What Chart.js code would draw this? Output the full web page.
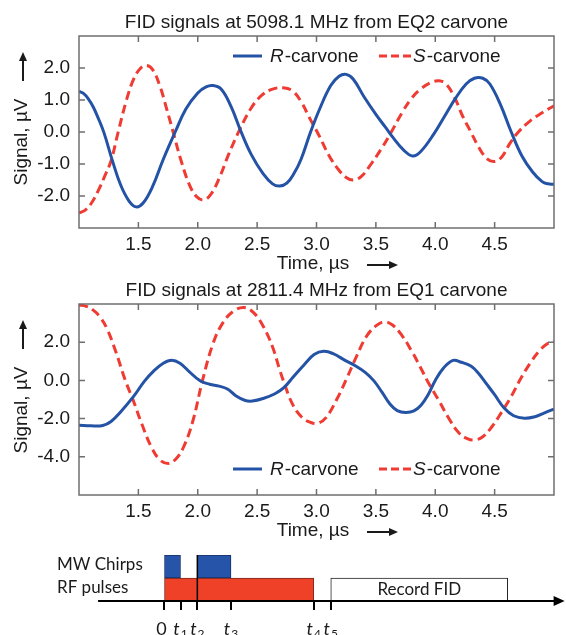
<!DOCTYPE html>
<html><head><meta charset="utf-8">
<script src="https://cdn.jsdelivr.net/npm/chart.js@4.4.1/dist/chart.umd.min.js"></script>
<style>
html,body{margin:0;padding:0;background:#fff;}
body{width:566px;height:635px;position:relative;overflow:hidden;}
canvas{position:absolute;left:0;}
</style></head><body>
<canvas id="c1" width="566" height="280" style="top:0px"></canvas>
<canvas id="c2" width="566" height="265" style="top:280px"></canvas>
<canvas id="c3" width="566" height="90" style="top:545px"></canvas>
<script>
// ---------------- data ----------------
const topTitle = 'FID signals at 5098.1 MHz from EQ2 carvone';
const bottomTitle = 'FID signals at 2811.4 MHz from EQ1 carvone';
const seriesNames = ['R-carvone', 'S-carvone'];
const xAxisTitle = 'Time, µs';
const yAxisTitle = 'Signal, µV';
const xTickValues = [1.5, 2.0, 2.5, 3.0, 3.5, 4.0, 4.5];
const topYTicks = [-2, -1, 0, 1, 2];
const bottomYTicks = [-4, -2, 0, 2];

const topRTime = [1.00,1.04,1.08,1.12,1.16,1.21,1.28,1.35,1.42,1.48,1.54,1.62,1.71,1.81,1.90,2.00,2.07,2.13,2.20,2.28,2.36,2.45,2.55,2.63,2.69,2.75,2.81,2.87,2.95,3.03,3.12,3.19,3.25,3.31,3.40,3.50,3.58,3.65,3.73,3.81,3.88,3.99,4.08,4.17,4.26,4.33,4.40,4.46,4.55,4.64,4.73,4.82,4.90,4.95,5.00];
const topRSignal = [1.27,1.20,1.03,0.78,0.45,-0.02,-0.88,-1.65,-2.15,-2.34,-2.22,-1.70,-0.85,0.00,0.72,1.22,1.41,1.45,1.33,0.80,0.05,-0.70,-1.30,-1.62,-1.69,-1.60,-1.30,-0.85,0.00,0.75,1.45,1.74,1.80,1.65,1.10,0.55,0.15,-0.20,-0.55,-0.75,-0.60,-0.05,0.50,1.05,1.50,1.68,1.68,1.50,0.85,0.00,-0.75,-1.25,-1.55,-1.62,-1.63];

const topSTime = [1.00,1.05,1.10,1.16,1.22,1.27,1.33,1.40,1.46,1.52,1.57,1.62,1.68,1.74,1.80,1.86,1.93,1.99,2.05,2.11,2.18,2.26,2.35,2.45,2.54,2.63,2.72,2.80,2.87,2.94,3.02,3.10,3.18,3.25,3.31,3.38,3.46,3.55,3.63,3.72,3.80,3.88,3.96,4.03,4.09,4.16,4.23,4.30,4.37,4.44,4.50,4.56,4.63,4.70,4.80,4.90,5.00];
const topSSignal = [-2.53,-2.45,-2.25,-1.85,-1.35,-0.90,0.00,1.00,1.65,2.00,2.08,1.95,1.45,0.70,-0.10,-0.90,-1.65,-2.02,-2.12,-1.95,-1.45,-0.70,0.05,0.75,1.15,1.34,1.38,1.28,0.95,0.45,-0.10,-0.70,-1.15,-1.42,-1.50,-1.38,-1.00,-0.50,0.00,0.60,1.05,1.35,1.54,1.60,1.50,1.10,0.50,0.00,-0.50,-0.85,-0.92,-0.78,-0.35,0.00,0.35,0.60,0.82];

const bottomRTime = [1.00,1.10,1.20,1.27,1.35,1.46,1.55,1.63,1.71,1.78,1.85,1.93,2.02,2.10,2.18,2.25,2.32,2.40,2.46,2.55,2.65,2.73,2.80,2.90,2.98,3.06,3.14,3.24,3.33,3.41,3.48,3.55,3.62,3.68,3.75,3.82,3.88,3.94,4.00,4.07,4.15,4.22,4.30,4.36,4.44,4.50,4.58,4.66,4.75,4.84,4.92,5.00];
const bottomRSignal = [-2.35,-2.38,-2.36,-2.15,-1.65,-0.84,-0.05,0.50,0.90,1.05,0.90,0.45,-0.02,-0.20,-0.30,-0.45,-0.80,-1.05,-1.08,-0.95,-0.70,-0.35,0.15,0.85,1.35,1.52,1.40,1.05,0.75,0.42,0.00,-0.60,-1.25,-1.58,-1.68,-1.60,-1.30,-0.75,0.00,0.65,1.05,0.95,0.75,0.40,-0.25,-0.75,-1.45,-1.85,-1.98,-1.90,-1.70,-1.50];

const bottomSTime = [1.00,1.06,1.12,1.18,1.24,1.31,1.39,1.46,1.53,1.61,1.68,1.75,1.81,1.88,1.96,2.04,2.13,2.21,2.30,2.39,2.47,2.55,2.63,2.69,2.72,2.80,2.88,2.95,3.01,3.08,3.17,3.25,3.34,3.42,3.50,3.57,3.64,3.72,3.80,3.87,3.94,4.03,4.12,4.20,4.27,4.33,4.40,4.48,4.56,4.64,4.72,4.80,4.87,4.94,5.00];
const bottomSSignal = [3.95,3.88,3.68,3.30,2.65,1.50,0.00,-1.10,-2.30,-3.50,-4.15,-4.35,-4.15,-3.50,-2.10,0.00,1.95,3.00,3.62,3.82,3.55,2.85,1.75,0.56,0.00,-1.27,-1.95,-2.20,-2.25,-1.95,-1.00,0.04,1.30,2.30,2.85,3.07,2.90,2.35,1.55,0.75,-0.10,-1.05,-2.05,-2.75,-3.05,-3.12,-2.95,-2.40,-1.65,-0.84,0.10,0.91,1.50,1.90,2.04];

// pulse-sequence diagram (arbitrary time units)
const diagramRows = ['MW Chirps', 'RF pulses'];
const mwChirpSpans = [[0, 1.0], [1.99, 3.97]];
const rfPulseSpans = [[0, 8.84]];
const recordSpan = [9.84, 20.25];
const recordLabel = 'Record FID';
const timeMarkValues = [0, 1.0, 1.99, 3.97, 8.84, 9.84];
const timeMarkLabels = ['0', 't1', 't2', 't3', 't4', 't5'];
const timeAxisRange = [-3.85, 23.6];

// ---------------- styling ----------------
const FONT = '"Liberation Sans", Arial, sans-serif';
const DFONT = 'Lato, "Open Sans", sans-serif';
const BLUE = '#2453a6';
const RED = '#ef3b32';
const TXT = '#1a1a1a';

function toXY(xs, ys) { return xs.map((x, i) => ({ x: x, y: ys[i] })); }

function arrow(ctx, x0, y0, x1, y1, head, half) {
  const ang = Math.atan2(y1 - y0, x1 - x0);
  ctx.beginPath();
  ctx.moveTo(x0, y0);
  ctx.lineTo(x1 - Math.cos(ang) * head * 0.8, y1 - Math.sin(ang) * head * 0.8);
  ctx.stroke();
  ctx.beginPath();
  ctx.moveTo(x1, y1);
  ctx.lineTo(x1 - Math.cos(ang) * head + Math.sin(ang) * half, y1 - Math.sin(ang) * head - Math.cos(ang) * half);
  ctx.lineTo(x1 - Math.cos(ang) * head - Math.sin(ang) * half, y1 - Math.sin(ang) * head + Math.cos(ang) * half);
  ctx.closePath();
  ctx.fill();
}

function drawLegendItem(ctx, x0, x1, y, color, dash, name, textX) {
  ctx.save();
  ctx.strokeStyle = color; ctx.lineWidth = 3; ctx.setLineDash(dash);
  ctx.beginPath(); ctx.moveTo(x0, y); ctx.lineTo(x1, y); ctx.stroke();
  ctx.restore();
  const first = name.charAt(0), rest = name.slice(1);
  ctx.fillStyle = TXT; ctx.textAlign = 'left'; ctx.textBaseline = 'middle';
  ctx.font = 'italic 19px ' + FONT;
  ctx.fillText(first, textX, y + 1);
  const w = ctx.measureText(first).width;
  ctx.font = '19px ' + FONT;
  ctx.fillText(rest, textX + w + 1, y + 1);
}

function fidDecor(opts) {
  return {
    id: 'fidDecor',
    afterDraw(chart) {
      const ctx = chart.ctx, a = chart.chartArea, xs = chart.scales.x, ys = chart.scales.y;
      ctx.save();
      ctx.strokeStyle = '#6f6f6f'; ctx.lineWidth = 1.5;
      ctx.strokeRect(a.left, a.top, a.right - a.left, a.bottom - a.top);
      ctx.beginPath();
      xTickValues.forEach(v => {
        const p = xs.getPixelForValue(v);
        ctx.moveTo(p, a.bottom); ctx.lineTo(p, a.bottom - 6);
        ctx.moveTo(p, a.top); ctx.lineTo(p, a.top + 6);
      });
      opts.yTicks.forEach(v => {
        const p = ys.getPixelForValue(v);
        ctx.moveTo(a.left, p); ctx.lineTo(a.left + 6, p);
        ctx.moveTo(a.right, p); ctx.lineTo(a.right - 6, p);
      });
      ctx.stroke();
      ctx.fillStyle = TXT; ctx.font = '19px ' + FONT;
      ctx.textAlign = 'center'; ctx.textBaseline = 'alphabetic';
      ctx.fillText(opts.title, (a.left + a.right) / 2, a.top - 8);
      ctx.fillText(xAxisTitle, 313, a.bottom + 41);
      ctx.strokeStyle = TXT; ctx.fillStyle = TXT; ctx.lineWidth = 2;
      arrow(ctx, 367, a.bottom + 37, 398, a.bottom + 37, 9, 4);
      ctx.save();
      ctx.translate(22, a.top + 106); ctx.rotate(-Math.PI / 2);
      ctx.textAlign = 'center'; ctx.textBaseline = 'middle';
      ctx.fillText(yAxisTitle, 0, 0);
      ctx.restore();
      arrow(ctx, 23, a.top + 45, 23, a.top + 16, 9, 4);
      const ly = a.top + opts.legendOffset;
      drawLegendItem(ctx, 233, 262, ly, BLUE, [], seriesNames[0], 270);
      drawLegendItem(ctx, 379, 411, ly, RED, [8, 4], seriesNames[1], 413);
      ctx.restore();
    }
  };
}

function makeFid(id, title, rT, rS, sT, sS, yMin, yMax, yTicks, padTop, xAxisH, legendOffset) {
  return new Chart(document.getElementById(id), {
    type: 'line',
    data: {
      datasets: [
        { label: seriesNames[0], data: toXY(rT, rS), borderColor: BLUE, borderWidth: 3, pointRadius: 0, tension: 0.4, fill: false },
        { label: seriesNames[1], data: toXY(sT, sS), borderColor: RED, borderWidth: 3, borderDash: [9, 5], pointRadius: 0, tension: 0.4, fill: false }
      ]
    },
    options: {
      responsive: false, animation: false, events: [],
      layout: { padding: { top: padTop, left: 0, right: 12, bottom: 0 } },
      plugins: { legend: { display: false }, title: { display: false }, tooltip: { enabled: false } },
      scales: {
        x: {
          type: 'linear', min: 1.0, max: 5.0,
          grid: { display: false, drawTicks: false }, border: { display: false },
          afterBuildTicks: s => { s.ticks = xTickValues.map(v => ({ value: v })); },
          afterFit: s => { s.height = xAxisH; },
          ticks: { color: TXT, font: { family: FONT, size: 19 }, padding: 5, maxRotation: 0, callback: v => Number(v).toFixed(1) }
        },
        y: {
          type: 'linear', min: yMin, max: yMax,
          grid: { display: false, drawTicks: false }, border: { display: false },
          afterBuildTicks: s => { s.ticks = yTicks.map(v => ({ value: v })); },
          afterFit: s => { s.width = 79; },
          ticks: { color: TXT, font: { family: FONT, size: 19 }, padding: 9, callback: v => Number(v).toFixed(1) }
        }
      }
    },
    plugins: [fidDecor({ title: title, yTicks: yTicks, legendOffset: legendOffset })]
  });
}

makeFid('c1', topTitle, topRTime, topRSignal, topSTime, topSSignal, -3, 3, topYTicks, 36, 52, 20);
makeFid('c2', bottomTitle, bottomRTime, bottomRSignal, bottomSTime, bottomSSignal, -6, 4, bottomYTicks, 24, 50, 165);

// ---------------- pulse diagram ----------------
const diagramDecor = {
  id: 'diagramDecor',
  afterDraw(chart) {
    const ctx = chart.ctx, a = chart.chartArea, xs = chart.scales.x, ys = chart.scales.y;
    ctx.save();
    ctx.strokeStyle = '#000'; ctx.fillStyle = '#000'; ctx.lineWidth = 2;
    arrow(ctx, xs.getPixelForValue(timeAxisRange[0]), a.bottom, xs.getPixelForValue(timeAxisRange[1]), a.bottom, 11, 5);
    const p2 = xs.getPixelForValue(timeMarkValues[2]);
    ctx.lineWidth = 1.5;
    ctx.beginPath(); ctx.moveTo(p2, ys.getPixelForValue(0) - 11.5); ctx.lineTo(p2, a.bottom); ctx.stroke();
    ctx.fillStyle = TXT; ctx.font = '17px ' + DFONT; ctx.textAlign = 'left'; ctx.textBaseline = 'middle';
    diagramRows.forEach((lab, i) => ctx.fillText(lab, 57, ys.getPixelForValue(i) - 2));
    ctx.textAlign = 'center';
    ctx.fillText(recordLabel, (xs.getPixelForValue(recordSpan[0]) + xs.getPixelForValue(recordSpan[1])) / 2, ys.getPixelForValue(1));
    ctx.textBaseline = 'alphabetic';
    const by = a.bottom + 34;
    timeMarkValues.forEach((v, i) => {
      const px = xs.getPixelForValue(v);
      const lab = timeMarkLabels[i];
      if (lab.length === 1) {
        ctx.font = '18px ' + DFONT; ctx.textAlign = 'center';
        ctx.fillText(lab, px - 2, by);
      } else {
        ctx.font = 'italic 18px ' + DFONT;
        const w1 = ctx.measureText(lab.charAt(0)).width;
        ctx.font = '12px ' + DFONT;
        const w2 = ctx.measureText(lab.slice(1)).width;
        const x0 = px - (w1 + w2 + 1) / 2;
        ctx.textAlign = 'left';
        ctx.font = 'italic 18px ' + DFONT;
        ctx.fillText(lab.charAt(0), x0, by);
        ctx.font = '12px ' + DFONT;
        ctx.fillText(lab.slice(1), x0 + w1 + 1, by + 3);
      }
    });
    ctx.restore();
  }
};

const barCommon = { grouped: false, barPercentage: 1, categoryPercentage: 1, borderSkipped: false, borderWidth: 1 };
new Chart(document.getElementById('c3'), {
  type: 'bar',
  data: {
    labels: diagramRows,
    datasets: [
      Object.assign({ label: 'MW chirp 1', data: [mwChirpSpans[0], null], backgroundColor: '#2654a8', borderColor: '#1b2f66' }, barCommon),
      Object.assign({ label: 'MW chirp 2', data: [mwChirpSpans[1], null], backgroundColor: '#2654a8', borderColor: '#1b2f66' }, barCommon),
      Object.assign({ label: 'RF pulses', data: [null, rfPulseSpans[0]], backgroundColor: '#ee4128', borderColor: '#7a2a1e' }, barCommon),
      Object.assign({ label: recordLabel, data: [null, recordSpan], backgroundColor: '#ffffff', borderColor: '#222222' }, barCommon)
    ]
  },
  options: {
    indexAxis: 'y', responsive: false, animation: false, events: [],
    layout: { padding: { top: 10, left: 0, right: 0, bottom: 0 } },
    plugins: { legend: { display: false }, title: { display: false }, tooltip: { enabled: false } },
    scales: {
      x: {
        type: 'linear', min: -9.62, max: 23.68,
        afterBuildTicks: s => { s.ticks = timeMarkValues.map(v => ({ value: v })); },
        afterFit: s => { s.height = 34; },
        grid: { drawOnChartArea: false, drawTicks: true, tickLength: 9, color: '#000', lineWidth: 2 },
        border: { display: false },
        ticks: { display: false }
      },
      y: { type: 'category', display: false, offset: true }
    }
  },
  plugins: [diagramDecor]
});
</script>
</body></html>
